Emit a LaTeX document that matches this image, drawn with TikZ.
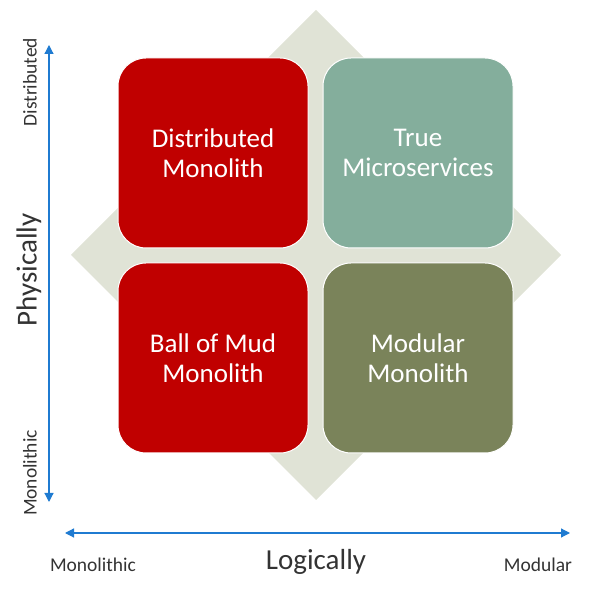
\documentclass[tikz,border=0pt]{standalone}
\usepackage{fontspec}
\setmainfont{Carlito}
\usetikzlibrary{arrows.meta,positioning,calc}
\definecolor{MudRed}{HTML}{C00000}
\definecolor{MicroTeal}{HTML}{84AE9C}
\definecolor{ModOlive}{HTML}{7A835A}
\definecolor{DiamondGrey}{HTML}{E0E3D6}
\definecolor{AxisBlue}{HTML}{1F7BD1}
\definecolor{LabelGrey}{HTML}{333333}

\begin{document}
\begin{tikzpicture}[x=1pt,y=1pt,
  quadrant/.style={draw=white,line width=1pt,rounded corners=28pt,minimum size=190pt,inner sep=0pt,
    align=center,text=white,font=\fontsize{27}{30}\selectfont},
  axislabel/.style={text=LabelGrey,font=\fontsize{19.5}{22}\selectfont},
  axistitle/.style={text=LabelGrey,font=\fontsize{29}{32}\selectfont},
  axisarrow/.style={draw=AxisBlue,line width=1.2pt,{Triangle[width=9pt,length=9pt]}-{Triangle[width=9pt,length=9pt]}}]
\useasboundingbox (0,0) rectangle (612,612);
% background diamond
\fill [DiamondGrey] (316,602) -- (561,357) -- (316,112) -- (71,357) -- cycle;
% quadrants
\node [quadrant,fill=MudRed] (DistMono) at (213,459) {Distributed\\Monolith};
\node [quadrant,fill=MicroTeal] (TrueMicro) at (418,459) {True\\Microservices};
\node [quadrant,fill=MudRed] (MudMono) at (213,254) {Ball of Mud\\Monolith};
\node [quadrant,fill=ModOlive] (ModMono) at (418,254) {Modular\\Monolith};
% axes
\coordinate (PhysTop) at (49,567);
\coordinate (PhysBottom) at (49,110);
\coordinate (LogLeft) at (65,79);
\coordinate (LogRight) at (570,79);
\draw [axisarrow] (PhysBottom) -- (PhysTop);
\draw [axisarrow] (LogLeft) -- (LogRight);
\node [axislabel,rotate=90] (PhysDist) at (30,530) {Distributed};
\node [axislabel,rotate=90] (PhysMono) at (30,139) {Monolithic};
\node [axistitle,rotate=90] (PhysTitle) at (29,342) {Physically};
\node [axislabel] (LogMono) at (93,47) {Monolithic};
\node [axistitle] (LogTitle) at (316,50) {Logically};
\node [axislabel] (LogMod) at (538,47) {Modular};
\end{tikzpicture}
\end{document}
